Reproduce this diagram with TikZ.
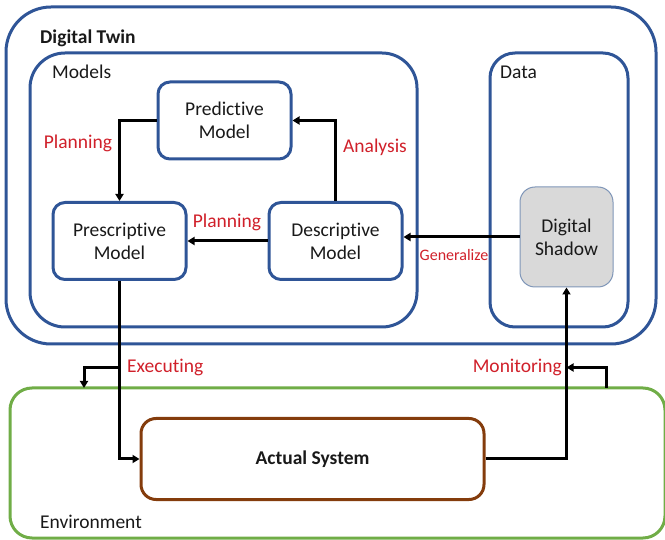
\documentclass[tikz,border=0pt]{standalone}
\usepackage{fontspec}
\setmainfont{Carlito}[Ligatures={NoCommon}]
\usetikzlibrary{arrows.meta}
\definecolor{dtblue}{HTML}{2F5597}
\definecolor{envgreen}{HTML}{70AD47}
\definecolor{actbrown}{HTML}{843C0C}
\definecolor{lblred}{HTML}{D0202A}
\definecolor{shadowfill}{HTML}{D9D9D9}
\definecolor{shadowline}{HTML}{7F96B8}
\begin{document}
\begin{tikzpicture}[x=1pt,y=-1pt,
  every node/.style={font=\fontsize{19.5}{23}\selectfont, text=black!90},
  container/.style={draw=dtblue, line width=3pt, rectangle},
  modelbox/.style={draw=dtblue, line width=3pt, rounded corners=12pt, minimum width=133pt, minimum height=77pt, align=center, inner sep=0pt},
  arr/.style={line width=3pt, -{Triangle[length=7pt,width=8pt]}},
  lbl/.style={text=lblred, inner sep=0pt},
  title/.style={anchor=west, inner sep=0pt}]
\useasboundingbox (0,0) rectangle (665,540);
\begin{scope}
\clip (0,0) rectangle (665,540);
% containers
\node[container, rounded corners=45pt, minimum width=650pt, minimum height=337pt] (dt) at (331,175.5) {};
\node[container, rounded corners=35pt, minimum width=387pt, minimum height=274pt] (models) at (223.5,190) {};
\node[container, rounded corners=25pt, minimum width=138pt, minimum height=274pt] (data) at (559,190) {};
\node[draw=envgreen, line width=3pt, rounded corners=22pt, minimum width=655pt, minimum height=150pt] (env) at (337.5,463) {};
\end{scope}
% titles
\node[title, font=\fontsize{19.5}{23}\selectfont\bfseries] (dttitle) at (40,38) {Digital Twin};
\node[title] (modelstitle) at (52,72) {Models};
\node[title] (datatitle) at (500,72) {Data};
\node[title] (envtitle) at (40,522) {Environment};
% model boxes
\node[modelbox] (pred) at (224.5,120.5) {Predictive\\Model};
\node[modelbox] (presc) at (119.5,241) {Prescriptive\\Model};
\node[modelbox] (desc) at (335.5,241) {Descriptive\\Model};
\node[draw=shadowline, line width=1pt, fill=shadowfill, rounded corners=15pt, minimum width=93pt, minimum height=100pt, align=center, inner sep=0pt] (ds) at (566.5,237) {Digital\\Shadow};
\node[draw=actbrown, line width=3pt, rounded corners=15pt, minimum width=343pt, minimum height=81pt, font=\fontsize{19.5}{23}\selectfont\bfseries] (act) at (312.5,459) {Actual System};
% connectors
\draw[arr] (pred.west) -| (presc.north);
\draw[arr] (desc.north) |- (pred.east);
\draw[arr] (desc.west) -- (presc.east);
\draw[arr] (ds.west) -- (ds.west -| desc.east);
\draw[arr] (presc.south) |- (act.west);
\draw[arr] (act.east) -| (ds.south);
% small environment arrows
\coordinate (exsplit) at (119.5,367.5);
\coordinate (exdown) at (84,388);
\draw[arr] (exsplit) -| (exdown);
\coordinate (monup) at (606,388);
\coordinate (monjoin) at (566.5,367.5);
\draw[arr] (monup) |- (monjoin);
% labels
\node[lbl] (lplan1) at (78,143) {Planning};
\node[lbl] (lanal) at (375,147) {Analysis};
\node[lbl] (lplan2) at (227,222) {Planning};
\node[lbl, font=\fontsize{16}{19}\selectfont] (lgen) at (454,255) {Generalize};
\node[lbl, anchor=west] (lexec) at (127,367.5) {Executing};
\node[lbl, anchor=east] (lmon) at (562,367.5) {Monitoring};
\end{tikzpicture}
\end{document}
